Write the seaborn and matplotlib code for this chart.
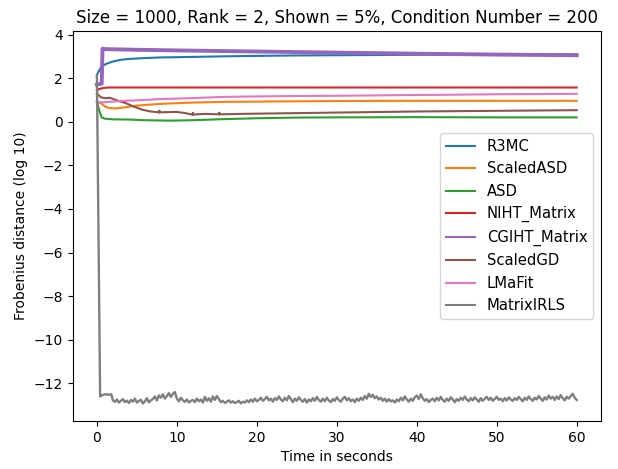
import matplotlib
matplotlib.use('Agg')
import matplotlib.pyplot as plt
import numpy as np
import seaborn as sns

names = ['R3MC', 'ScaledASD', 'ASD', 'NIHT_Matrix', 'CGIHT_Matrix', 'ScaledGD', 'LMaFit', 'MatrixIRLS']
colors = ['#1f77b4', '#ff7f0e', '#2ca02c', '#d62728', '#9467bd', '#8c564b', '#e377c2', '#7f7f7f']

# (log10 frobenius distance vs seconds)
r3mc_t = [0, 0.2, 0.5, 0.8, 1.2, 2, 3, 4, 6, 8, 10, 13, 16, 20, 25, 30, 35, 40, 45, 50, 55, 60]
r3mc_v = [2.15, 2.3, 2.48, 2.58, 2.66, 2.76, 2.84, 2.88, 2.92, 2.95, 2.96, 2.98, 3.0, 3.02,
          3.04, 3.05, 3.06, 3.07, 3.07, 3.08, 3.08, 3.09]

sasd_t = [0, 0.5, 1, 1.5, 2.3, 3.5, 5, 8, 12, 16, 22, 30, 40, 60]
sasd_v = [0.92, 0.85, 0.7, 0.63, 0.61, 0.66, 0.74, 0.82, 0.88, 0.91, 0.93, 0.95, 0.96, 0.96]

asd_t = [0, 0.3, 0.6, 1, 2, 4, 6, 9, 12, 16, 20, 25, 30, 40, 50, 60]
asd_v = [0.92, 0.5, 0.2, 0.14, 0.11, 0.1, 0.07, 0.05, 0.07, 0.12, 0.16, 0.19, 0.2, 0.21, 0.2, 0.2]

niht_t = [0, 0.3, 0.8, 1.5, 60]
niht_v = [1.45, 1.5, 1.55, 1.57, 1.57]

cgiht_t = [0, 0.6, 0.7, 1, 5, 10, 20, 30, 40, 50, 60]
cgiht_v = [1.7, 1.75, 3.35, 3.33, 3.3, 3.27, 3.22, 3.17, 3.12, 3.08, 3.05]

sgd_t = [0, 0.5, 1, 1.6, 2.5, 3.7, 4.7, 5.7, 6.7, 7.8, 7.8, 7.8, 8.8, 9.9, 11, 12, 12, 12,
         13.5, 15.3, 15.3, 15.3, 18, 22, 30, 40, 50, 60]
sgd_v = [1.3, 1.12, 1.08, 1.1, 0.98, 0.84, 0.68, 0.55, 0.47, 0.43, 0.5, 0.43, 0.44, 0.45, 0.4,
         0.32, 0.4, 0.33, 0.36, 0.34, 0.41, 0.34, 0.36, 0.38, 0.42, 0.47, 0.5, 0.53]

lmafit_t = [0, 1, 3, 6, 8, 10, 13, 16, 20, 25, 30, 38, 45, 50, 55, 60]
lmafit_v = [0.88, 0.9, 0.95, 1.0, 1.04, 1.06, 1.1, 1.14, 1.16, 1.18, 1.19, 1.22, 1.24, 1.26, 1.27, 1.28]

irls_start_t = [0, 0.4, 0.6, 1.0, 1.5, 1.8]
irls_start_v = [2.1, -12.6, -12.55, -12.5, -12.52, -12.5]
irls_noise = [
    -12.78, -12.85, -12.74, -12.88, -12.80, -12.72, -12.86, -12.79, -12.90, -12.76,
    -12.84, -12.70, -12.88, -12.81, -12.75, -12.92, -12.83, -12.68, -12.87, -12.78,
    -12.72, -12.60, -12.78, -12.55, -12.66, -12.50, -12.70, -12.58, -12.45, -12.62,
    -12.48, -12.40, -12.70, -12.82, -12.66, -12.78, -12.85, -12.74, -12.88, -12.80,
    -12.76, -12.86, -12.70, -12.82, -12.74, -12.88, -12.62, -12.80, -12.68, -12.84,
    -12.60, -12.76, -12.58, -12.72, -12.86, -12.80, -12.90, -12.84, -12.78, -12.88,
    -12.82, -12.90, -12.86, -12.80, -12.92, -12.84, -12.88, -12.78, -12.86, -12.74,
    -12.84, -12.70, -12.82, -12.76, -12.66, -12.80, -12.72, -12.62, -12.78, -12.70,
    -12.84, -12.68, -12.76, -12.60, -12.74, -12.82, -12.66, -12.78, -12.58, -12.72,
    -12.86, -12.70, -12.80, -12.64, -12.76, -12.84, -12.72, -12.88, -12.74, -12.82,
    -12.68, -12.80, -12.62, -12.76, -12.84, -12.70, -12.82, -12.66, -12.78, -12.86,
    -12.72, -12.80, -12.64, -12.76, -12.84, -12.70, -12.62, -12.78, -12.68, -12.82,
    -12.74, -12.86, -12.70, -12.80, -12.66, -12.76, -12.58, -12.70, -12.48, -12.62,
    -12.52, -12.68, -12.60, -12.74, -12.66, -12.80, -12.70, -12.84, -12.72, -12.82,
    -12.78, -12.88, -12.74, -12.82, -12.66, -12.78, -12.60, -12.74, -12.84, -12.70,
    -12.80, -12.64, -12.56, -12.72, -12.50, -12.68, -12.80, -12.72, -12.86, -12.76,
    -12.70, -12.82, -12.66, -12.78, -12.62, -12.76, -12.84, -12.70, -12.80, -12.64,
    -12.74, -12.86, -12.72, -12.80, -12.66, -12.76, -12.60, -12.74, -12.82, -12.68,
    -12.78, -12.64, -12.74, -12.84, -12.68, -12.80, -12.70, -12.62, -12.76, -12.66,
    -12.80, -12.72, -12.62, -12.76, -12.70, -12.82, -12.68, -12.78, -12.64, -12.74,
    -12.80, -12.68, -12.76, -12.62, -12.72, -12.82, -12.66, -12.76, -12.60, -12.72,
    -12.80, -12.66, -12.74, -12.58, -12.70, -12.80, -12.64, -12.74, -12.56, -12.70,
    -12.62, -12.76, -12.60, -12.72, -12.54, -12.68, -12.78, -12.62, -12.70, -12.58,
    -12.48, -12.66, -12.76,
]
irls_t = irls_start_t + list(np.linspace(2, 60, len(irls_noise)))
irls_v = irls_start_v + irls_noise

series_t = [r3mc_t, sasd_t, asd_t, niht_t, cgiht_t, sgd_t, lmafit_t, irls_t]
series_v = [r3mc_v, sasd_v, asd_v, niht_v, cgiht_v, sgd_v, lmafit_v, irls_v]

fig, ax = plt.subplots(figsize=(6.18, 4.69), dpi=100)
plt.subplots_adjust(left=0.118, right=0.972, top=0.934, bottom=0.102)

for name, c, t, v in zip(names, colors, series_t, series_v):
    lw = 1.5
    if name == 'CGIHT_Matrix':
        lw = 2.8
    elif name == 'MatrixIRLS':
        lw = 1.7
    sns.lineplot(x=t, y=v, ax=ax, color=c, label=name, linewidth=lw,
                 estimator=None, sort=False)

ax.set_title('Size = 1000, Rank = 2, Shown = 5%, Condition Number = 200')
ax.set_xlabel('Time in seconds')
ax.set_ylabel('Frobenius distance (log 10)')
leg = ax.legend(loc='center right', fontsize=10.6)
for h in leg.get_lines():
    h.set_linewidth(1.5)

plt.savefig('out.png', dpi=100)
